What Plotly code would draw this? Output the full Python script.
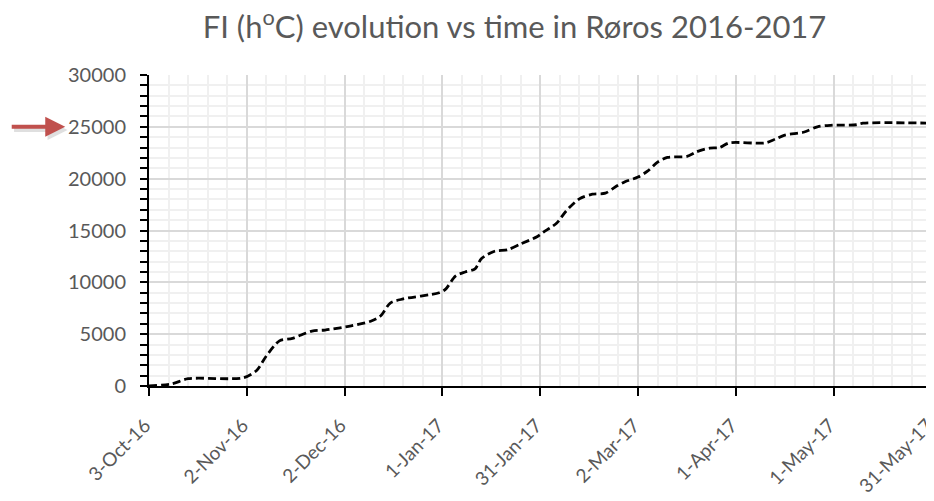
import plotly.graph_objects as go

# Datos (FI acumulado en h°C)
dates = ['2016-10-03', '2016-10-10', '2016-10-15', '2016-11-01', '2016-11-05', '2016-11-08',
         '2016-11-12', '2016-11-16', '2016-11-22', '2016-11-26', '2016-12-04', '2016-12-10',
         '2016-12-13', '2016-12-16', '2016-12-20', '2016-12-31', '2017-01-02', '2017-01-05',
         '2017-01-08', '2017-01-11', '2017-01-13', '2017-01-17', '2017-01-21', '2017-01-25',
         '2017-01-30', '2017-02-01', '2017-02-05', '2017-02-08', '2017-02-12', '2017-02-16',
         '2017-02-20', '2017-02-23', '2017-02-26', '2017-03-02', '2017-03-05', '2017-03-08',
         '2017-03-11', '2017-03-17', '2017-03-20', '2017-03-24', '2017-03-27', '2017-03-30',
         '2017-04-10', '2017-04-13', '2017-04-16', '2017-04-22', '2017-04-26', '2017-04-30',
         '2017-05-08', '2017-05-10', '2017-05-31']
fi_values = [0, 200, 700, 800, 1500, 2900,
             4350, 4600, 5300, 5400, 5800, 6250,
             6750, 8000, 8400, 9000, 9350, 10600,
             11000, 11300, 12300, 13000, 13150, 13700,
             14400, 14850, 15700, 16900, 18050, 18500,
             18600, 19200, 19700, 20150, 20750, 21600,
             22050, 22150, 22600, 22950, 23000, 23450,
             23450, 23800, 24200, 24500, 25000, 25150,
             25200, 25350, 25350]

tick_dates = ['2016-10-03', '2016-11-02', '2016-12-02', '2017-01-01', '2017-01-31',
              '2017-03-02', '2017-04-01', '2017-05-01', '2017-05-31']
tick_labels = ['3-Oct-16', '2-Nov-16', '2-Dec-16', '1-Jan-17', '31-Jan-17',
               '2-Mar-17', '1-Apr-17', '1-May-17', '31-May-17']

gray_txt = '#595959'

fig = go.Figure()
fig.add_trace(go.Scatter(x=dates, y=fi_values, mode='lines',
                         line=dict(color='black', width=2.8, dash='8px,4px', shape='spline', smoothing=0.8),
                         showlegend=False))

# la página tiene 8 px de margen en el body: se compensa aquí
fig.update_layout(
    width=926, height=493,
    margin=dict(l=141, r=2, t=67, b=115),
    paper_bgcolor='white', plot_bgcolor='white',
    font=dict(family='Lato', color=gray_txt),
    title=dict(text='FI (h<sup>o</sup>C) evolution vs time in Røros 2016-2017',
               x=0.547, xanchor='center', y=0.962, yanchor='middle',
               font=dict(size=31, color=gray_txt)),
)

fig.update_xaxes(
    type='date', range=['2016-10-03', '2017-05-31 04:00'],
    tickmode='array', tickvals=tick_dates, ticktext=tick_labels, tickangle=-45,
    tickfont=dict(size=19, color=gray_txt), ticklabeloverflow='allow', automargin=False,
    ticks='outside', ticklen=8, tickcolor='black', tickwidth=2,
    ticklabelstandoff=11, ticklabelshift=-4,
    showline=True, linecolor='black', linewidth=2,
    showgrid=True, gridcolor='#d9d9d9', gridwidth=1.5,
    minor=dict(dtick=6 * 86400000, tick0='2016-10-03', showgrid=True,
               gridcolor='#f0f0f0', gridwidth=1.5, ticks=''),
    zeroline=False,
)

fig.update_yaxes(
    range=[0, 30000], dtick=5000, tickformat='d',
    tickfont=dict(size=20, color=gray_txt),
    ticks='outside', ticklen=7, tickcolor='black', tickwidth=2,
    ticklabelstandoff=10,
    showline=True, linecolor='black', linewidth=2,
    showgrid=True, gridcolor='#d9d9d9', gridwidth=1.5,
    minor=dict(dtick=1000, showgrid=True, gridcolor='#f0f0f0', gridwidth=1.5,
               ticks='outside', ticklen=7, tickcolor='black', tickwidth=2),
    zeroline=False,
)

# Flecha roja que señala 25000 (con una sombra suave debajo)
fig.add_annotation(x=-0.104, xref='paper', y=24700, yref='y',
                   ax=-55, ay=0, axref='pixel', ayref='pixel',
                   showarrow=True, arrowhead=2, arrowsize=1, arrowwidth=4,
                   arrowcolor='rgba(0,0,0,0.12)', text='')
fig.add_annotation(x=-0.107, xref='paper', y=25000, yref='y',
                   ax=-55, ay=0, axref='pixel', ayref='pixel',
                   showarrow=True, arrowhead=2, arrowsize=1, arrowwidth=4,
                   arrowcolor='#C0504D', text='')

fig.write_html("out.html")
